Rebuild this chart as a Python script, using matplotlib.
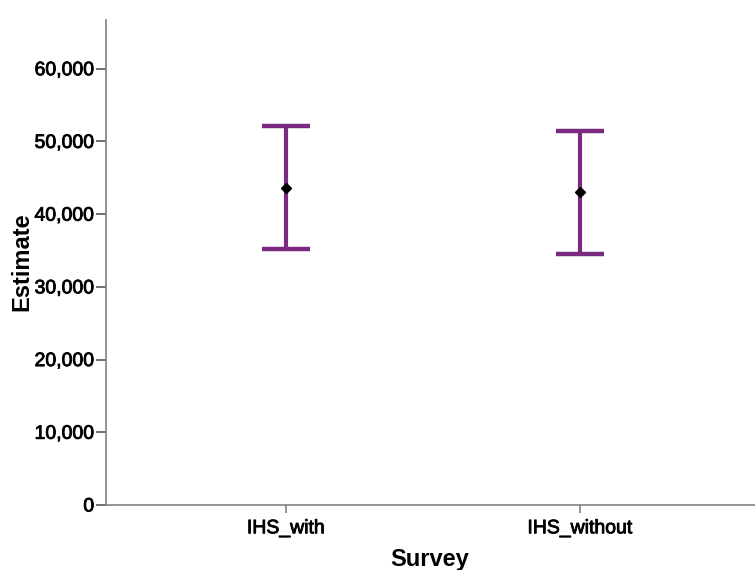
import matplotlib
matplotlib.use("Agg")
import matplotlib.pyplot as plt
import matplotlib.patheffects as pe
import numpy as np

categories = ["IHS_with", "IHS_without"]
estimate = [43650, 43010]
lower = [35210, 34530]
upper = [52170, 51440]
yticks = [0, 10000, 20000, 30000, 40000, 50000, 60000]
ytick_labels = ["0", "10,000", "20,000", "30,000", "40,000", "50,000", "60,000"]

plt.rcParams['font.family'] = ['Liberation Sans', 'DejaVu Sans']

W, H = 755, 570
fig = plt.figure(figsize=(W/100, H/100), dpi=100)
ax = fig.add_axes([106/W, 1-505/H, 1-106/W, (505-20)/H])

x = np.arange(len(categories))
est = np.array(estimate)
yerr = np.array([est - np.array(lower), np.array(upper) - est])
purple = "#7a2a80"
ax.errorbar(x, est, yerr=yerr, fmt='none', ecolor=purple, elinewidth=3,
            capsize=17, capthick=3.2, zorder=2)
ax.plot(x, est, linestyle='none', marker='D', markersize=5, color='black', zorder=3)

ax.set_xlim(-0.612, 1.595)
ax.set_ylim(0, 66700)
ax.set_xticks(x)
ax.set_xticklabels(categories, fontsize=14)
ax.set_yticks(yticks)
ax.set_yticklabels(ytick_labels, fontsize=14)

thick = [pe.withStroke(linewidth=0.6, foreground='black')]
for lab in ax.get_xticklabels() + ax.get_yticklabels():
    lab.set_path_effects(thick)

for s in ['top', 'right']:
    ax.spines[s].set_visible(False)
for s in ['left', 'bottom']:
    ax.spines[s].set_color('#808080')
    ax.spines[s].set_linewidth(1.2)
ax.tick_params(axis='y', length=7, width=1.2, color='#555555', pad=1.5)
ax.tick_params(axis='x', length=6, width=1.2, color='#808080', pad=5)

fig.text(430/W, 1-566/H, "Survey", fontsize=17, fontweight='bold',
         ha='center', va='baseline')
fig.text(22/W, 1-262/H, "Estimate", fontsize=17, fontweight='bold',
         ha='center', va='center', rotation=90)

fig.savefig("out.png", dpi=100)
